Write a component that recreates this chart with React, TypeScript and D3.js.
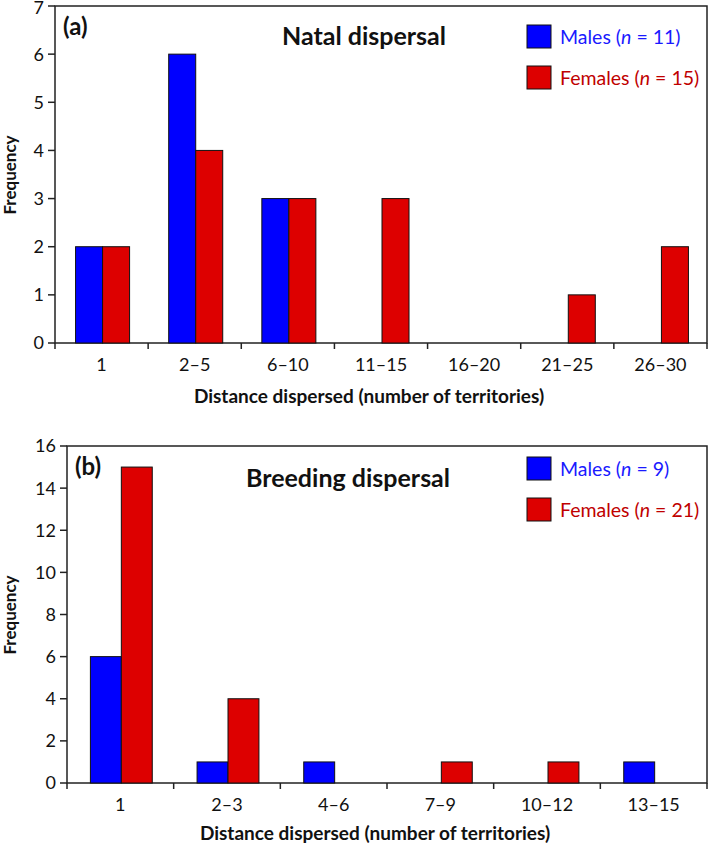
import React from 'react';
import * as d3 from 'd3';

const natalCats = ['1', '2–5', '6–10', '11–15', '16–20', '21–25', '26–30'];
const natalMales = [2, 6, 3, 0, 0, 0, 0];
const natalFemales = [2, 4, 3, 3, 0, 1, 2];
const natalTicks = [0, 1, 2, 3, 4, 5, 6, 7];

const breedCats = ['1', '2–3', '4–6', '7–9', '10–12', '13–15'];
const breedMales = [6, 1, 1, 0, 0, 1];
const breedFemales = [15, 4, 0, 1, 1, 0];
const breedTicks = [0, 2, 4, 6, 8, 10, 12, 14, 16];

const FONT = 'Lato, "Open Sans", sans-serif';
const BLUE = '#0000ff';
const RED = '#dd0000';

type PanelProps = {
  cats: string[];
  males: number[];
  females: number[];
  ticks: number[];
  yMax: number;
  left: number;
  top: number;
  bottom: number;
  label: string;
  title: string;
  titleX: number;
  titleY: number;
  maleN: string;
  femaleN: string;
  legendY: number;
  xTitleY: number;
  freqY: number;
};

function Panel(p: PanelProps) {
  const right = 707;
  const x = d3.scaleBand<string>().domain(p.cats).range([p.left, right]).padding(0);
  const y = d3.scaleLinear().domain([0, p.yMax]).range([p.bottom, p.top]);
  const bw = x.bandwidth();
  const barW = bw * 0.29;
  const bars: { x: number; v: number; c: string }[] = [];
  p.cats.forEach((c, i) => {
    const cx = (x(c) as number) + bw / 2 + 1;
    if (p.males[i] > 0) bars.push({ x: cx - barW, v: p.males[i], c: BLUE });
    if (p.females[i] > 0) bars.push({ x: cx, v: p.females[i], c: RED });
  });
  const boundaries = p.cats.map((c) => x(c) as number).concat([right]);
  const lx = 527;
  return (
    <g>
      <rect x={p.left} y={p.top} width={right - p.left} height={p.bottom - p.top} fill="white" stroke="#222" strokeWidth={1.5} />
      {bars.map((b, i) => (
        <rect key={i} x={b.x} y={y(b.v)} width={barW} height={p.bottom - y(b.v)} fill={b.c} stroke="#111" strokeWidth={1} />
      ))}
      {p.ticks.map((t) => (
        <g key={t}>
          <line x1={p.left - 7} x2={p.left} y1={y(t)} y2={y(t)} stroke="#222" strokeWidth={1.5} />
          <text x={p.left - 11} y={y(t)} dy={t === p.yMax && p.top < 10 ? '0.42em' : '0.36em'} textAnchor="end" fontSize={18} fontFamily={FONT} fill="#111">{t}</text>
        </g>
      ))}
      {boundaries.map((bx, i) => (
        <line key={i} x1={bx} x2={bx} y1={p.bottom} y2={p.bottom + 6} stroke="#222" strokeWidth={1.5} />
      ))}
      {p.cats.map((c) => (
        <text key={c} x={(x(c) as number) + bw / 2} y={p.bottom + 28} textAnchor="middle" fontSize={18} fontFamily={FONT} fill="#111">{c}</text>
      ))}
      <text x={(p.left + right) / 2 - 12} y={p.xTitleY} textAnchor="middle" fontSize={19} fontWeight="bold" fontFamily={FONT} fill="#111">Distance dispersed (number of territories)</text>
      <text transform={`translate(16,${p.freqY}) rotate(-90)`} textAnchor="middle" fontSize={17} fontWeight="bold" fontFamily={FONT} fill="#111">Frequency</text>
      <text x={p.left + 8} y={p.top + 29} fontSize={24} fontWeight="bold" fontFamily={FONT} fill="#111">{p.label}</text>
      <text x={p.titleX} y={p.titleY} textAnchor="middle" fontSize={25} fontWeight="bold" fontFamily={FONT} fill="#111">{p.title}</text>
      <rect x={lx} y={p.legendY} width={24} height={23} fill={BLUE} stroke="#111" strokeWidth={1} />
      <text x={lx + 33} y={p.legendY + 12} dy="0.35em" fontSize={19.5} fontFamily={FONT} fill="#1a1aff">
        Males (<tspan fontStyle="italic">n</tspan> = {p.maleN})
      </text>
      <rect x={lx} y={p.legendY + 41} width={24} height={23} fill={RED} stroke="#111" strokeWidth={1} />
      <text x={lx + 33} y={p.legendY + 53} dy="0.35em" fontSize={19.5} fontFamily={FONT} fill="#c00000">
        Females (<tspan fontStyle="italic">n</tspan> = {p.femaleN})
      </text>
    </g>
  );
}

export default function App() {
  return (
    <svg width={709} height={846} style={{ position: 'absolute', left: 0, top: 0, background: 'white' }}>
      <Panel cats={natalCats} males={natalMales} females={natalFemales} ticks={natalTicks} yMax={7}
        left={55} top={6} bottom={343} label="(a)" title="Natal dispersal" titleX={364} titleY={45}
        maleN="11" femaleN="15" legendY={25} xTitleY={403} freqY={175} />
      <Panel cats={breedCats} males={breedMales} females={breedFemales} ticks={breedTicks} yMax={16}
        left={67} top={446} bottom={783} label="(b)" title="Breeding dispersal" titleX={348} titleY={487}
        maleN="9" femaleN="21" legendY={457} xTitleY={840} freqY={615} />
    </svg>
  );
}
